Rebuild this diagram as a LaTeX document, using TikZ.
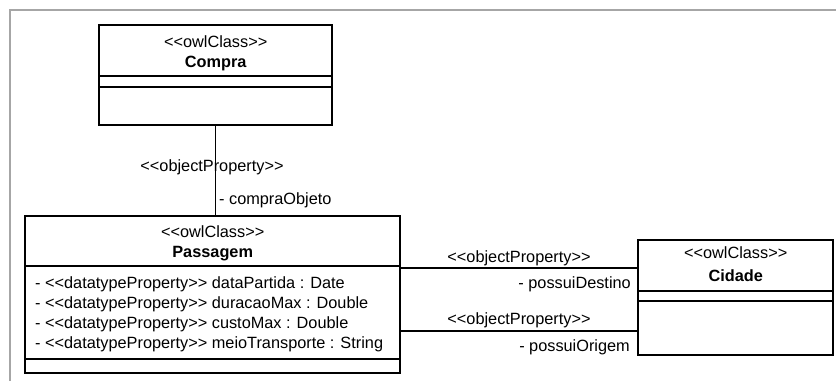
\documentclass[tikz,border=0pt]{standalone}
\usepackage{fontspec}
\setmainfont{Liberation Sans}[Ligatures=TeXOff]
\usetikzlibrary{positioning}

\tikzset{
  owlclass/.style={draw, line width=2.4pt, inner sep=0pt, anchor=north west},
  compart/.style={line width=1.2pt},
  assoc/.style={line width=1.2pt},
  lbl/.style={inner sep=0pt, anchor=base, font=\fontsize{16.3}{20}\selectfont},
  clsname/.style={lbl, font=\fontsize{16.3}{20}\selectfont\bfseries},
}

\begin{document}
\begin{tikzpicture}[x=1pt,y=-1pt,line cap=butt,line join=miter]
  \useasboundingbox (0,0) rectangle (836,381);
  % window frame
  \draw[line width=2pt,color=black!35] (10,381) -- (10,10) -- (836,10);

  % classes
  \node[owlclass, minimum width=233pt, minimum height=100pt] (compra) at (98,24) {};
  \node[owlclass, minimum width=375pt, minimum height=157pt] (passagem) at (24,215) {};
  \node[owlclass, minimum width=195pt, minimum height=115pt] (cidade) at (637,239) {};

  \draw[compart] (compra.west |- 0,76) -- (compra.east |- 0,76);
  \draw[compart] (compra.west |- 0,87) -- (compra.east |- 0,87);
  \draw[compart] (passagem.west |- 0,266) -- (passagem.east |- 0,266);
  \draw[compart] (passagem.west |- 0,359) -- (passagem.east |- 0,359);
  \draw[compart] (cidade.west |- 0,291) -- (cidade.east |- 0,291);
  \draw[compart] (cidade.west |- 0,301) -- (cidade.east |- 0,301);

  \node[lbl] (compraSt) at (compra.north |- 0,47) {<<owlClass>>};
  \node[clsname] (compraNm) at (compra.north |- 0,67) {Compra};
  \node[lbl] (passagemSt) at (passagem.north |- 0,237) {<<owlClass>>};
  \node[clsname] (passagemNm) at (passagem.north |- 0,257) {Passagem};
  \node[lbl] (cidadeSt) at (cidade.north |- 0,258) {<<owlClass>>};
  \node[clsname] (cidadeNm) at (cidade.north |- 0,281) {Cidade};

  % attributes of Passagem
  \foreach \i/\att in {1/{dataPartida : Date}, 2/{duracaoMax : Double},
                       3/{custoMax : Double}, 4/{meioTransporte : String}}
    \node[lbl, anchor=base west] (attr\i) at (35,268+20*\i) {- <<datatypeProperty>> \att};

  % associations
  \draw[assoc] (compra.south) -- (compra.south |- passagem.north);
  \draw[assoc] (passagem.east |- 0,268) -- (cidade.west |- 0,268);
  \draw[assoc] (passagem.east |- 0,331) -- (cidade.west |- 0,331);

  \node[lbl] (opCompra) at (212,171) {<<objectProperty>>};
  \node[lbl, anchor=base west] (roleCompra) at (219,204) {- compraObjeto};
  \node[lbl] (opDestino) at (519,262) {<<objectProperty>>};
  \node[lbl, anchor=base east] (roleDestino) at (631,288) {- possuiDestino};
  \node[lbl] (opOrigem) at (519,324) {<<objectProperty>>};
  \node[lbl, anchor=base east] (roleOrigem) at (630,351) {- possuiOrigem};
\end{tikzpicture}
\end{document}
